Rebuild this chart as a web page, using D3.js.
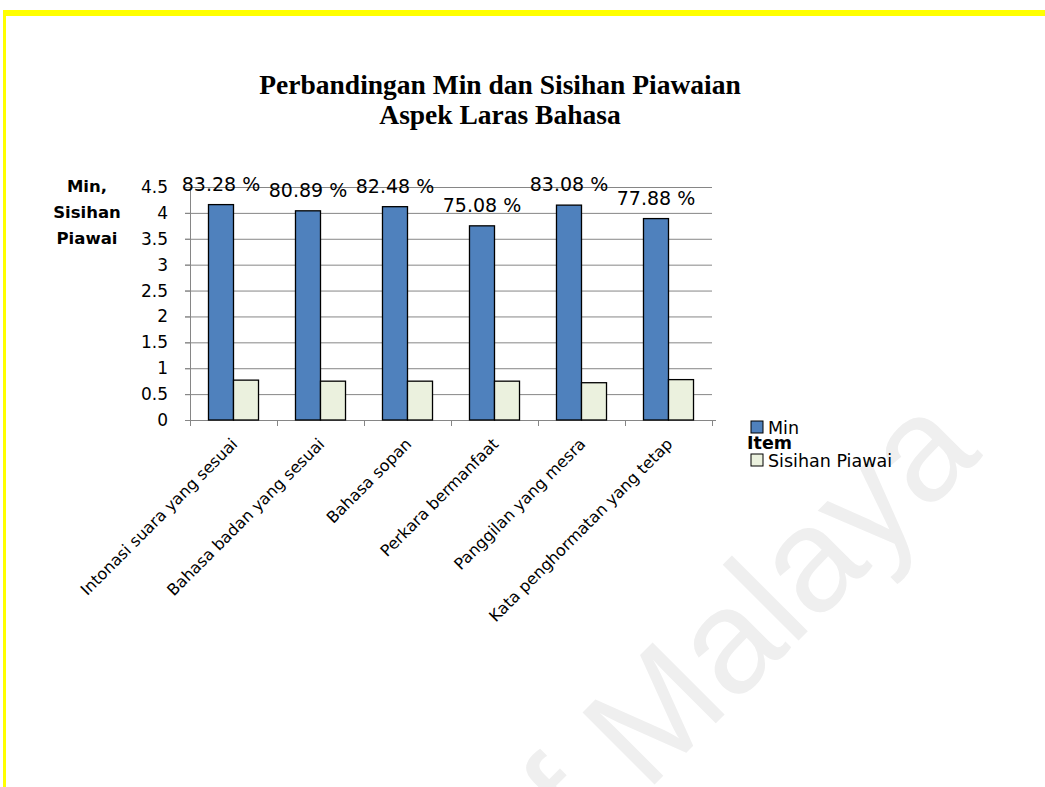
<!DOCTYPE html>
<html>
<head>
<meta charset="utf-8">
<script src="https://d3js.org/d3.v7.min.js"></script>
<style>
  body { margin: 0; background: #fff; }
  .tick-label { font-family: "DejaVu Sans", sans-serif; font-size: 17px; fill: #000; }
  .cat-label { font-family: "DejaVu Sans", sans-serif; font-size: 16px; fill: #000; }
  .pct-label { font-family: "DejaVu Sans", sans-serif; font-size: 19px; fill: #000; }
  .legend { font-family: "DejaVu Sans", sans-serif; font-size: 17.5px; fill: #000; }
</style>
</head>
<body>
<div id="chart"></div>
<script>
// chart data
const categories = ["Intonasi suara yang sesuai", "Bahasa badan yang sesuai", "Bahasa sopan",
                    "Perkara bermanfaat", "Panggilan yang mesra", "Kata penghormatan yang tetap"];
const series = ["Min", "Sisihan Piawai"];
const minValues = [4.16, 4.04, 4.12, 3.75, 4.15, 3.89];
const sdValues = [0.77, 0.75, 0.75, 0.75, 0.72, 0.78];
const percentLabels = ["83.28 %", "80.89 %", "82.48 %", "75.08 %", "83.08 %", "77.88 %"];
const yTicks = [0, 0.5, 1, 1.5, 2, 2.5, 3, 3.5, 4, 4.5];
const colors = ["#4f81bd", "#ebf1de"];

const W = 1045, H = 787;
const plotLeft = 190, plotRight = 712, plotBottom = 420, plotTop = 187;

const svg = d3.select("#chart").append("svg")
    .attr("width", W).attr("height", H);

// watermark (mostly off the page, like the scanned source)
const wm = svg.append("text")
    .attr("transform", "translate(646,793) rotate(-45)")
    .attr("font-family", "Liberation Sans, Arial, sans-serif")
    .attr("font-size", 148)
    .attr("fill", "#efefef")
    .attr("text-anchor", "start");
wm.text("Malaya");
svg.append("text")
    .attr("transform", "translate(615,824) rotate(-45)")
    .attr("text-anchor", "end")
    .attr("font-family", "Liberation Sans, Arial, sans-serif")
    .attr("font-size", 148)
    .attr("fill", "#efefef")
    .text("University of");

// yellow page frame
svg.append("rect").attr("x", 3).attr("y", 10).attr("width", W - 3).attr("height", 6).attr("fill", "#ffff00");
svg.append("rect").attr("x", 3).attr("y", 10).attr("width", 3).attr("height", H - 10).attr("fill", "#ffff00");

// title
const title = svg.append("text")
    .attr("text-anchor", "middle")
    .attr("font-family", "Liberation Serif, Times New Roman, serif")
    .attr("font-weight", "bold")
    .attr("font-size", 27.5);
title.append("tspan").attr("x", 500).attr("y", 94).text("Perbandingan Min dan Sisihan Piawaian");
title.append("tspan").attr("x", 500).attr("y", 124).text("Aspek Laras Bahasa");

// scales
const x = d3.scaleBand().domain(categories).range([plotLeft, plotRight])
    .paddingInner(0.425).paddingOuter(0.2125);
const xs = d3.scaleBand().domain(series).range([0, x.bandwidth()]);
const y = d3.scaleLinear().domain([0, 4.5]).range([plotBottom, plotTop]);
const edge = d3.scaleLinear().domain([0, categories.length]).range([plotLeft, plotRight]);

// gridlines
svg.append("g")
    .attr("transform", `translate(${plotLeft},0)`)
    .call(d3.axisLeft(y).tickValues(yTicks).tickSize(-(plotRight - plotLeft + 5)).tickFormat("").tickSizeOuter(0))
    .call(g => g.select(".domain").remove())
    .call(g => g.selectAll(".tick line").attr("stroke", "#868686").attr("transform", "translate(-5,0)"));

// y axis line + labels
svg.append("g")
    .attr("transform", `translate(${plotLeft},0)`)
    .call(d3.axisLeft(y).tickValues(yTicks).tickSize(5).tickPadding(17).tickSizeOuter(0)
        .tickFormat(d => String(d)))
    .call(g => g.select(".domain").attr("stroke", "#868686"))
    .call(g => g.selectAll(".tick line").attr("stroke", "#868686"))
    .call(g => g.selectAll(".tick text").attr("class", "tick-label").attr("font-family", null).attr("font-size", null));

// y title
const yt = svg.append("text")
    .attr("text-anchor", "middle")
    .attr("font-family", "DejaVu Sans, sans-serif")
    .attr("font-weight", "bold")
    .attr("font-size", 16.5);
["Min,", "Sisihan", "Piawai"].forEach((t, i) => {
    yt.append("tspan").attr("x", 87).attr("y", 192 + i * 26).text(t);
});

// x axis line + boundary ticks
svg.append("line")
    .attr("x1", plotLeft - 5).attr("x2", plotRight + 4)
    .attr("y1", plotBottom + 0.5).attr("y2", plotBottom + 0.5)
    .attr("stroke", "#868686");
svg.append("g").selectAll("line")
    .data(d3.range(categories.length + 1))
    .join("line")
    .attr("x1", d => edge(d) + 0.5).attr("x2", d => edge(d) + 0.5)
    .attr("y1", plotBottom).attr("y2", plotBottom + 6)
    .attr("stroke", "#868686");

// bars
const groups = svg.append("g").selectAll("g")
    .data(categories)
    .join("g")
    .attr("transform", d => `translate(${x(d)},0)`);

groups.append("rect")
    .attr("x", xs("Min"))
    .attr("y", (d, i) => y(minValues[i]))
    .attr("width", xs.bandwidth())
    .attr("height", (d, i) => y(0) - y(minValues[i]))
    .attr("fill", colors[0])
    .attr("stroke", "#000").attr("stroke-width", 1.3);

groups.append("rect")
    .attr("x", xs("Sisihan Piawai"))
    .attr("y", (d, i) => y(sdValues[i]))
    .attr("width", xs.bandwidth())
    .attr("height", (d, i) => y(0) - y(sdValues[i]))
    .attr("fill", colors[1])
    .attr("stroke", "#000").attr("stroke-width", 1.3);

// percentage labels
groups.append("text")
    .attr("class", "pct-label")
    .attr("text-anchor", "middle")
    .attr("x", xs("Min") + xs.bandwidth() / 2)
    .attr("y", (d, i) => y(minValues[i]) - 14)
    .text((d, i) => percentLabels[i]);

// category labels
svg.append("g").selectAll("text")
    .data(categories)
    .join("text")
    .attr("class", "cat-label")
    .attr("text-anchor", "end")
    .attr("transform", d => `translate(${x(d) + x.bandwidth() / 2 + 5},${plotBottom + 25}) rotate(-45)`)
    .text(d => d);

// legend
const lg = svg.append("g");
lg.append("rect").attr("x", 751).attr("y", 421).attr("width", 12).attr("height", 12)
    .attr("fill", colors[0]).attr("stroke", "#000");
lg.append("text").attr("class", "legend").attr("x", 768).attr("y", 434).text(series[0]);
lg.append("text").attr("class", "legend").attr("font-weight", "bold").attr("x", 747).attr("y", 449).text("Item");
lg.append("rect").attr("x", 751).attr("y", 454).attr("width", 12).attr("height", 12)
    .attr("fill", colors[1]).attr("stroke", "#000");
lg.append("text").attr("class", "legend").attr("x", 768).attr("y", 467).text(series[1]);
</script>
</body>
</html>
